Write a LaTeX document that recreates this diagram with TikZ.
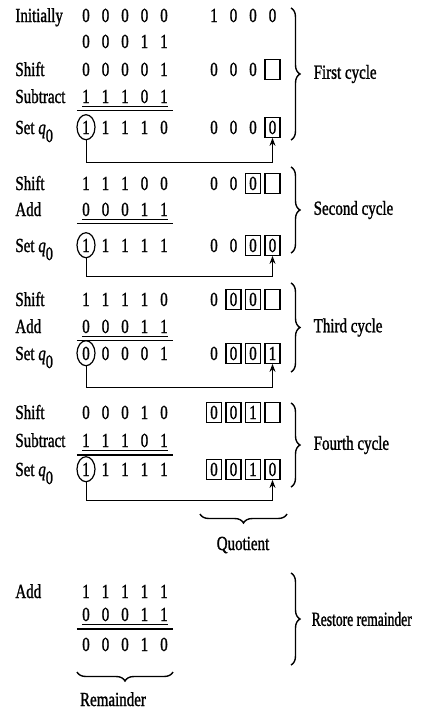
\documentclass[tikz,border=0pt]{standalone}
\usepackage{fontspec}
\setmainfont{Liberation Serif}[FakeStretch=0.75, FakeBold=1.2]
\newfontfamily\narrowrm{Liberation Serif}[FakeStretch=0.68, FakeBold=1.2]
\usepackage{tikz}
\usetikzlibrary{shapes.geometric, arrows.meta, decorations.pathreplacing}

\newcommand{\setq}{Set \textit{q}\raisebox{-4pt}{\fontsize{9.5}{9.5}\selectfont 0}}
\newcommand{\wide}{\spaceskip=6pt\relax}

\begin{document}
\begin{tikzpicture}[x=0.5pt, y=-0.5pt,
    every node/.style={inner sep=0pt, anchor=base},
    lbl/.style={anchor=base west},
    bits/.style={font=\wide},
    cell/.style={draw, line width=0.7pt, minimum width=7.5pt, minimum height=10pt, text height=6.8pt, text depth=0pt},
    ring/.style={ellipse, draw, line width=0.6pt, minimum width=9pt, minimum height=12.5pt, text height=6.8pt, text depth=0pt},
    under/.style={line width=0.4pt},
    rule/.style={line width=0.9pt},
    link/.style={line width=0.5pt, -{Stealth[length=4pt, width=3pt]}},
    brace/.style={decorate, decoration={brace, amplitude=4.5pt}, line width=0.7pt}]
    \useasboundingbox (0,0) rectangle (420,712);

    % first cycle
    \node[lbl] (l1) at (15,22) {Initially};
    \node[bits] (a1) at (125,22) {0 0 0 0 0};
    \node[bits] (d1) at (125,48) {0 0 0 1 1};
    \node[bits] (p1) at (243.25,22) {1 0 0 0};
    \node[lbl] (l2) at (15,76) {Shift};
    \node[bits] (a2) at (125,76) {0 0 0 0 1};
    \node[bits] (p2) at (233.5,76) {0 0 0};
    \node[cell] (e2) at (272.5,76) {};
    \node[lbl] (l3) at (15,103) {Subtract};
    \node[bits] (b3) at (125,103) {1 1 1 0 1};
    \node[lbl] (l4) at (15,134) {\setq};
    \node[ring] (c1) at (86,134) {1};
    \node[bits] (a4) at (134.75,134) {1 1 1 0};
    \node[bits] (p4) at (233.5,134) {0 0 0};
    \node[cell] (q1) at (272.5,134) {0};

    % second cycle
    \node[lbl] (l5) at (15,190) {Shift};
    \node[bits] (a5) at (125,190) {1 1 1 0 0};
    \node[bits] (p5) at (223.75,190) {0 0};
    \node[cell] (m5) at (253,190) {0};
    \node[cell] (e5) at (272.5,190) {};
    \node[lbl] (l6) at (15,216) {Add};
    \node[bits] (b6) at (125,216) {0 0 0 1 1};
    \node[lbl] (l7) at (15,252) {\setq};
    \node[ring] (c2) at (86,252) {1};
    \node[bits] (a7) at (134.75,252) {1 1 1 1};
    \node[bits] (p7) at (223.75,252) {0 0};
    \node[cell] (m7) at (253,252) {0};
    \node[cell] (q2) at (272.5,252) {0};

    % third cycle
    \node[lbl] (l8) at (15,306) {Shift};
    \node[bits] (a8) at (125,306) {1 1 1 1 0};
    \node[bits] (p8) at (214,306) {0};
    \node[cell] (n8) at (233.5,306) {0};
    \node[cell] (m8) at (253,306) {0};
    \node[cell] (e8) at (272.5,306) {};
    \node[lbl] (l9) at (15,333) {Add};
    \node[bits] (b9) at (125,333) {0 0 0 1 1};
    \node[lbl] (l10) at (15,360) {\setq};
    \node[ring] (c3) at (86,360) {0};
    \node[bits] (a10) at (134.75,360) {0 0 0 1};
    \node[bits] (p10) at (214,360) {0};
    \node[cell] (n10) at (233.5,360) {0};
    \node[cell] (m10) at (253,360) {0};
    \node[cell] (q3) at (272.5,360) {1};

    % fourth cycle
    \node[lbl] (l11) at (15,419) {Shift};
    \node[bits] (a11) at (125,419) {0 0 0 1 0};
    \node[cell] (o11) at (214,419) {0};
    \node[cell] (n11) at (233.5,419) {0};
    \node[cell] (m11) at (253,419) {1};
    \node[cell] (e11) at (272.5,419) {};
    \node[lbl] (l12) at (15,447) {Subtract};
    \node[bits] (b12) at (125,447) {1 1 1 0 1};
    \node[lbl] (l13) at (15,476) {\setq};
    \node[ring] (c4) at (86,476) {1};
    \node[bits] (a13) at (134.75,476) {1 1 1 1};
    \node[cell] (o13) at (214,476) {0};
    \node[cell] (n13) at (233.5,476) {0};
    \node[cell] (m13) at (253,476) {1};
    \node[cell] (q4) at (272.5,476) {0};

    % restore
    \node[lbl] (l14) at (15,598) {Add};
    \node[bits] (a14) at (125,598) {1 1 1 1 1};
    \node[bits] (b15) at (125,621) {0 0 0 1 1};
    \node[bits] (r16) at (125,651) {0 0 0 1 0};

    \foreach \b in {b3, b6, b9, b12, b15} {
        \draw[under] ([yshift=-1.5pt]\b.south west) -- ([yshift=-1.5pt]\b.south east);
        \draw[rule] ([xshift=-2.5pt, yshift=-3.5pt]\b.south west) -- ([xshift=2.5pt, yshift=-3.5pt]\b.south east);
    }

    \coordinate (k1) at (272.5,162);
    \coordinate (k2) at (272.5,276);
    \coordinate (k3) at (272.5,387);
    \coordinate (k4) at (272.5,500);
    \draw[link] (c1.south) |- (k1) -- (q1.south);
    \draw[link] (c2.south) |- (k2) -- (q2.south);
    \draw[link] (c3.south) |- (k3) -- (q3.south);
    \draw[link] (c4.south) |- (k4) -- (q4.south);

    \draw[brace] (291,8) -- (291,140) node[midway, right=11pt] (cyc1) {First cycle};
    \draw[brace] (291,167) -- (291,253) node[midway, right=11pt] (cyc2) {Second cycle};
    \draw[brace] (291,283) -- (291,372) node[midway, right=11pt] (cyc3) {Third cycle};
    \draw[brace] (291,403) -- (291,487) node[midway, right=11pt] (cyc4) {Fourth cycle};
    \draw[brace] (291,573) -- (291,665) node[midway, right=10pt] (rest) {\narrowrm Restore remainder};

    \draw[brace] (287,514) -- (200,514);
    \node (quot) at (243,550) {Quotient};
    \draw[brace] (173,672) -- (77,672);
    \node (rem) at (113,706) {Remainder};
\end{tikzpicture}
\end{document}
